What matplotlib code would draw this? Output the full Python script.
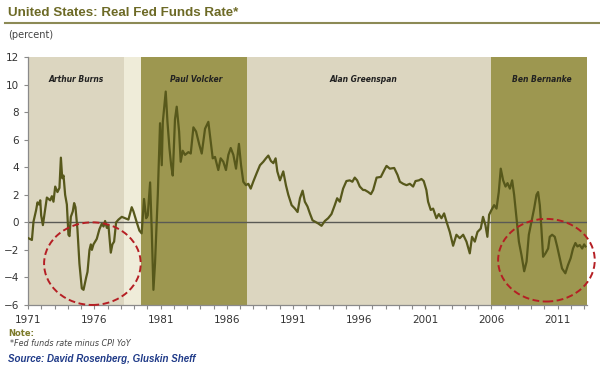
import matplotlib
matplotlib.use('Agg')
from matplotlib import pyplot as plt
from matplotlib.patches import Ellipse

# real fed funds rate (fed funds minus CPI YoY)
years = [
    1971.03, 1971.28, 1971.40, 1971.60, 1971.70, 1971.81, 1971.91, 1971.98, 1972.11, 1972.41,
    1972.66, 1972.79, 1972.91, 1973.04, 1973.21, 1973.36, 1973.47, 1973.57, 1973.67, 1973.79,
    1973.92, 1974.04, 1974.12, 1974.22, 1974.37, 1974.47, 1974.57, 1974.72, 1974.87, 1975.05,
    1975.18, 1975.38, 1975.48, 1975.63, 1975.73, 1975.81, 1975.93, 1976.18, 1976.38, 1976.56,
    1976.69, 1976.81, 1976.94, 1977.06, 1977.24, 1977.36, 1977.49, 1977.64, 1977.82, 1978.07,
    1978.32, 1978.57, 1978.82, 1978.95, 1979.20, 1979.40, 1979.57, 1979.75, 1979.91, 1980.03,
    1980.21, 1980.33, 1980.46, 1980.58, 1980.79, 1980.96, 1981.09, 1981.17, 1981.39, 1981.52,
    1981.67, 1981.80, 1981.92, 1982.09, 1982.22, 1982.40, 1982.52, 1982.67, 1982.85, 1983.10,
    1983.28, 1983.48, 1983.68, 1983.91, 1984.11, 1984.36, 1984.61, 1984.79, 1984.94, 1985.11,
    1985.36, 1985.54, 1985.74, 1985.94, 1986.12, 1986.30, 1986.50, 1986.70, 1986.92, 1987.08,
    1987.25, 1987.45, 1987.63, 1987.81, 1988.00, 1988.25, 1988.51, 1988.76, 1988.96, 1989.14,
    1989.34, 1989.52, 1989.69, 1989.82, 1990.02, 1990.27, 1990.47, 1990.65, 1990.90, 1991.15,
    1991.35, 1991.53, 1991.73, 1991.90, 1992.10, 1992.28, 1992.48, 1992.66, 1992.91, 1993.16,
    1993.41, 1993.66, 1993.91, 1994.16, 1994.34, 1994.54, 1994.79, 1995.04, 1995.29, 1995.49,
    1995.67, 1995.85, 1996.05, 1996.30, 1996.43, 1996.69, 1996.89, 1997.06, 1997.32, 1997.64,
    1997.90, 1998.07, 1998.32, 1998.65, 1998.90, 1999.08, 1999.33, 1999.58, 1999.83, 2000.08,
    2000.26, 2000.51, 2000.71, 2000.88, 2001.08, 2001.21, 2001.41, 2001.59, 2001.84, 2002.02,
    2002.22, 2002.42, 2002.60, 2002.85, 2003.10, 2003.35, 2003.60, 2003.86, 2004.11, 2004.36,
    2004.53, 2004.74, 2004.94, 2005.19, 2005.36, 2005.54, 2005.69, 2005.82, 2006.00, 2006.20,
    2006.38, 2006.55, 2006.70, 2006.88, 2007.06, 2007.21, 2007.39, 2007.56, 2007.71, 2007.89,
    2008.07, 2008.27, 2008.47, 2008.65, 2008.82, 2009.02, 2009.22, 2009.40, 2009.52, 2009.65,
    2009.77, 2009.90, 2010.08, 2010.28, 2010.40, 2010.58, 2010.78, 2010.96, 2011.16, 2011.33,
    2011.58, 2011.78, 2011.98, 2012.16, 2012.34, 2012.49, 2012.67, 2012.85, 2013.00, 2013.10,
]
real_rate = [
    -1.16, -1.28, 0.05, 0.9, 1.45, 1.3, 1.6, 0.5, -0.2, 1.8,
    1.6, 1.9, 1.5, 2.6, 2.2, 2.5, 4.7, 3.2, 3.4, 2.0,
    1.3, -0.9, -1.0, 0.4, 0.8, 1.4, 1.1, -0.5, -3.0, -4.8,
    -4.9, -4.0, -3.6, -2.0, -1.6, -2.0, -1.6, -1.2, -0.5, -0.1,
    -0.3, 0.1, -0.4, -0.2, -2.2, -1.6, -1.4, 0.0, 0.2, 0.4,
    0.3, 0.2, 1.1, 0.8, 0.0, -0.6, -0.8, 1.7, 0.3, 0.5,
    2.9, -0.5, -4.9, -3.0, 2.0, 7.2, 4.15, 7.3, 9.5, 7.3,
    5.4, 4.15, 3.4, 7.5, 8.4, 6.6, 4.4, 5.2, 4.9, 5.1,
    5.0, 6.9, 6.6, 5.7, 5.0, 6.8, 7.3, 5.85, 4.65, 4.75,
    3.8, 4.65, 4.4, 3.8, 4.9, 5.4, 4.9, 3.9, 5.7, 4.15,
    2.95, 2.7, 2.8, 2.45, 2.95, 3.55, 4.15, 4.4, 4.65, 4.85,
    4.45, 4.3, 4.65, 3.7, 3.05, 3.7, 2.7, 2.0, 1.25, 1.0,
    0.75, 1.75, 2.3, 1.5, 1.15, 0.65, 0.15, 0.05, -0.08, -0.25,
    0.1, 0.3, 0.6, 1.25, 1.75, 1.5, 2.45, 3.0, 3.05, 2.95,
    3.25, 3.05, 2.6, 2.35, 2.35, 2.2, 2.05, 2.35, 3.25, 3.3,
    3.8, 4.1, 3.9, 3.95, 3.45, 2.95, 2.8, 2.7, 2.8, 2.6,
    3.0, 3.05, 3.15, 3.0, 2.35, 1.5, 0.9, 1.0, 0.3, 0.6,
    0.3, 0.65, 0.05, -0.7, -1.7, -0.9, -1.15, -0.9, -1.4, -2.25,
    -1.05, -1.4, -0.7, -0.45, 0.4, -0.2, -1.05, 0.55, 0.9, 1.25,
    1.0, 2.2, 3.9, 3.05, 2.6, 2.85, 2.45, 3.05, 2.0, 0.3,
    -1.4, -2.4, -3.55, -2.85, -0.9, 0.05, 1.0, 2.0, 2.2, 1.25,
    -0.45, -2.5, -2.25, -1.9, -1.05, -0.9, -1.05, -1.75, -2.6, -3.35,
    -3.7, -3.1, -2.6, -1.9, -1.5, -1.75, -1.65, -1.9, -1.6, -1.75,
]

# fed chairmen terms
band_edges = [1971.0, 1978.25, 1979.5, 1987.5, 2006.0, 2013.2]
band_colors = ['#dcd6c0', '#efecd9', '#9d9750', '#dcd6c0', '#9d9750']
chairs = ['Arthur Burns', 'Paul Volcker', 'Alan Greenspan', 'Ben Bernanke']
chair_x = [1974.6, 1983.7, 1996.3, 2009.8]

tick_years = list(range(1971, 2013, 5))

LINE = '#57581b'
OLIVE = '#6d6a26'

fig = plt.figure(figsize=(6, 3.71), dpi=100)
ax = fig.add_axes([0.047, 0.178, 0.931, 0.668])

for i, c in enumerate(band_colors):
    ax.axvspan(band_edges[i], band_edges[i + 1], color=c, lw=0, zorder=0)

for name, x in zip(chairs, chair_x):
    ax.text(x, 10.4, name, ha='center', va='center', fontsize=5.5,
            fontweight='bold', fontstyle='italic', color='#222222', family='DejaVu Sans')

ax.axhline(0, color='#5a5a55', lw=1.0, zorder=2)
ax.plot(years, real_rate, color=LINE, lw=1.6, zorder=3, solid_joinstyle='round')

# circles around the negative-rate episodes
for cx, cy in [(1975.85, -3.0), (2010.15, -2.75)]:
    e = Ellipse((cx, cy), 7.3, 6.0, fill=False, ls=(0, (3.5, 1.8)),
                lw=1.4, edgecolor='#b51f24', zorder=4, clip_on=False)
    ax.add_patch(e)

ax.set_xlim(1971, 2013.2)
ax.set_ylim(-6, 12)
ax.set_yticks(range(-6, 13, 2))
ax.set_xticks(tick_years)
ax.set_xticklabels([str(y) for y in tick_years])
ax.set_xticks(range(1971, 2014), minor=True)

for side in ['top', 'right']:
    ax.spines[side].set_visible(False)
for side in ['left', 'bottom']:
    ax.spines[side].set_color('#8a8a8a')
    ax.spines[side].set_linewidth(0.9)

ax.tick_params(axis='both', labelsize=7.5, colors='#8a8a8a', labelcolor='#333333',
               length=3, width=0.8)
ax.tick_params(axis='x', which='minor', length=3, width=0.8, colors='#8a8a8a')
ax.tick_params(axis='x', pad=4)

fig.text(0.013, 0.965, 'United States: Real Fed Funds Rate*', fontsize=9.6,
         fontweight='bold', color=OLIVE, family='Liberation Sans', va='center')
fig.add_artist(plt.Line2D([0.008, 1.0], [0.937, 0.937], color='#8c8a55', lw=1.5))
fig.text(0.013, 0.905, '(percent)', fontsize=7, color='#444444', va='center')

fig.text(0.013, 0.102, 'Note:', fontsize=6, fontweight='bold', color='#7c7a2a', va='center')
fig.text(0.017, 0.075, '*Fed funds rate minus CPI YoY', fontsize=5.8, fontstyle='italic',
         color='#444444', va='center')
fig.text(0.013, 0.033, 'Source: David Rosenberg, Gluskin Sheff', fontsize=7,
         fontweight='bold', fontstyle='italic', color='#1f3a88', va='center',
         family='Liberation Sans')

fig.savefig('out.png', dpi=100)
